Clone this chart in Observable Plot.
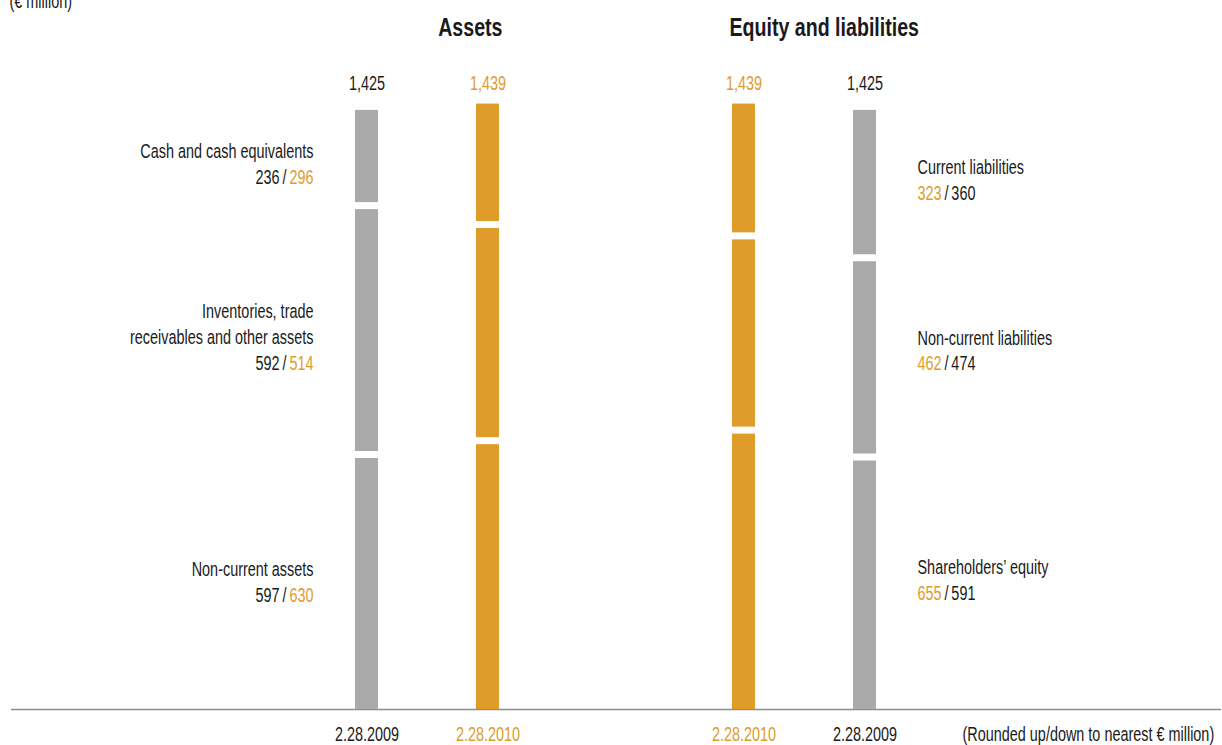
<!DOCTYPE html>
<html>
<head>
<meta charset="utf-8">
<script src="https://cdn.jsdelivr.net/npm/d3@7"></script>
<script src="https://cdn.jsdelivr.net/npm/@observablehq/plot@0.6"></script>
<style>
  html, body { margin: 0; padding: 0; background: #fff; }
  #chart svg { display: block; font-family: "Liberation Sans", Arial, sans-serif; }
</style>
</head>
<body>
<div id="chart"></div>
<script>
// ---- data ----
const sides = ["Assets", "Equity and liabilities"];
const assetCategories = ["Non-current assets", "Inventories, trade\nreceivables and other assets", "Cash and cash equivalents"];
const assets2009 = [597, 592, 236];
const assets2010 = [630, 514, 296];
const liabilityCategories = ["Shareholders’ equity", "Non-current liabilities", "Current liabilities"];
const liabilities2009 = [591, 474, 360];
const liabilities2010 = [655, 462, 323];
const totals2009 = [1425, 1425];
const totals2010 = [1439, 1439];
const dateLabels = {"2009": "2.28.2009", "2010": "2.28.2010"};
const unitLabel = "(€ million)";
const footnote = "(Rounded up/down to nearest € million)";

const GRAY = "#aaaaaa", ORANGE = "#e09c2b", INK = "#1a1a1a";
const barColor = {"2009": GRAY, "2010": ORANGE};
const textColor = {"2009": INK, "2010": ORANGE};

// slot L/R within each side: assets 2009|2010, equity 2010|2009
const slotOf = (side, year) => side === "Assets" ? (year === "2009" ? "L" : "R") : (year === "2010" ? "L" : "R");

function stack(side, cats, vals, year) {
  let c = 0;
  return vals.map((v, i) => { const s = {side, cat: cats[i], year, slot: slotOf(side, year), value: v, y1: c, y2: c + v, i}; c += v; return s; });
}
const segs = [
  ...stack("Assets", assetCategories, assets2009, "2009"),
  ...stack("Assets", assetCategories, assets2010, "2010"),
  ...stack("Equity and liabilities", liabilityCategories, liabilities2009, "2009"),
  ...stack("Equity and liabilities", liabilityCategories, liabilities2010, "2010")
];

const totals = [];
sides.forEach((s, k) => {
  totals.push({side: s, year: "2009", slot: slotOf(s, "2009"), total: totals2009[k]});
  totals.push({side: s, year: "2010", slot: slotOf(s, "2010"), total: totals2010[k]});
});

function labels(side, cats, v09, v10) {
  const a = stack(side, cats, v09, "2009"), b = stack(side, cats, v10, "2010");
  return cats.map((c, i) => {
    const first = side === "Assets" ? v09[i] : v10[i];
    const second = side === "Assets" ? v10[i] : v09[i];
    return {
      side, cat: c,
      y: (a[i].y1 + a[i].y2 + b[i].y1 + b[i].y2) / 4,
      text: c + "\n" + first + "\u2009/\u2009" + second
    };
  });
}
const leftLabels = labels("Assets", assetCategories, assets2009, assets2010);
const rightLabels = labels("Equity and liabilities", liabilityCategories, liabilities2009, liabilities2010);

const fmt = d3.format(",");
const FS = 19.5;
const common = {lineAnchor: "middle", fontSize: FS};

const chart = Plot.plot({
  width: 1222,
  height: 745,
  marginTop: 104,
  marginBottom: 36,
  marginLeft: 354,
  marginRight: 346,
  fx: {domain: sides, paddingInner: 0.619, paddingOuter: 0, axis: null},
  x: {domain: ["L", "R"], paddingInner: 0.81, paddingOuter: 0, axis: null},
  y: {domain: [0, 1439], axis: null},
  color: {type: "identity"},
  marks: [
    Plot.ruleY([{side: "Assets"}], {fx: "side", y: () => 0, stroke: "#8c8c8c", strokeWidth: 1.5, insetLeft: -344, insetRight: -722}),
    Plot.barY(segs.filter(d => d.i === 0), {fx: "side", x: "slot", y1: "y1", y2: "y2", fill: d => barColor[d.year]}),
    Plot.barY(segs.filter(d => d.i > 0), {fx: "side", x: "slot", y1: "y1", y2: "y2", fill: d => barColor[d.year], insetBottom: 7}),
    Plot.text(totals, {...common, fx: "side", x: "slot", frameAnchor: "top", dy: -21, text: d => fmt(d.total), fill: d => textColor[d.year]}),
    Plot.text(totals, {...common, fx: "side", x: "slot", frameAnchor: "bottom", dy: 25, text: d => dateLabels[d.year], fill: d => textColor[d.year]}),
    Plot.text(leftLabels, {...common, fx: "side", x: () => "L", y: "y", text: "text", textAnchor: "end", dx: -53.5, fill: INK, lineHeight: 1.33, className: "lbl-left"}),
    Plot.text(rightLabels, {...common, fx: "side", x: () => "R", y: "y", text: "text", textAnchor: "start", dx: 52.5, fill: INK, lineHeight: 1.33, className: "lbl-right"}),
    Plot.text([{side: "Assets", t: "Assets"}], {...common, fx: "side", x: () => "R", frameAnchor: "top", dy: -77, dx: 14.5, text: "t", textAnchor: "end", fontWeight: "bold", fontSize: 26.5, fill: INK}),
    Plot.text([{side: "Equity and liabilities", t: "Equity and liabilities"}], {...common, fx: "side", x: () => "L", frameAnchor: "top", dy: -77, dx: -14.5, text: "t", textAnchor: "start", fontWeight: "bold", fontSize: 26.5, fill: INK}),
    Plot.text([{side: "Assets", t: unitLabel}], {...common, fx: "side", x: () => "L", frameAnchor: "top", dy: -103, dx: -357.5, text: "t", textAnchor: "start", fill: INK}),
    Plot.text([{side: "Equity and liabilities", t: footnote}], {...common, fx: "side", x: () => "R", frameAnchor: "bottom", dy: 25, dx: 97.5, text: "t", textAnchor: "start", fill: INK})
  ]
});

// colour the "a / b" value line of each label
function colorize(cls, firstColor, secondColor) {
  d3.select(chart).selectAll("g." + cls + " text").each(function() {
    const t = d3.select(this);
    let spans = t.selectAll("tspan").nodes();
    const last = spans.length ? spans[spans.length - 1] : this;
    const parts = last.textContent.split("\u2009/\u2009");
    if (parts.length !== 2) return;
    last.textContent = "";
    const L = d3.select(last);
    L.append("tspan").attr("fill", firstColor).text(parts[0]);
    L.append("tspan").attr("fill", INK).text("\u2009/\u2009");
    L.append("tspan").attr("fill", secondColor).text(parts[1]);
  });
}
colorize("lbl-left", INK, ORANGE);
colorize("lbl-right", ORANGE, INK);

document.getElementById("chart").appendChild(chart);

// condensed look: narrow every text horizontally around its own anchor point
d3.select(chart).selectAll("text").each(function() {
  const xs = this.x && this.x.baseVal, ys = this.y && this.y.baseVal;
  const x = xs && xs.numberOfItems ? xs.getItem(0).value : 0;
  const y = ys && ys.numberOfItems ? ys.getItem(0).value : 0;
  const tr = this.getAttribute("transform") || "";
  this.setAttribute("transform", `${tr} translate(${x},${y}) scale(0.74,1) translate(${-x},${-y})`.trim());
});
</script>
</body>
</html>
